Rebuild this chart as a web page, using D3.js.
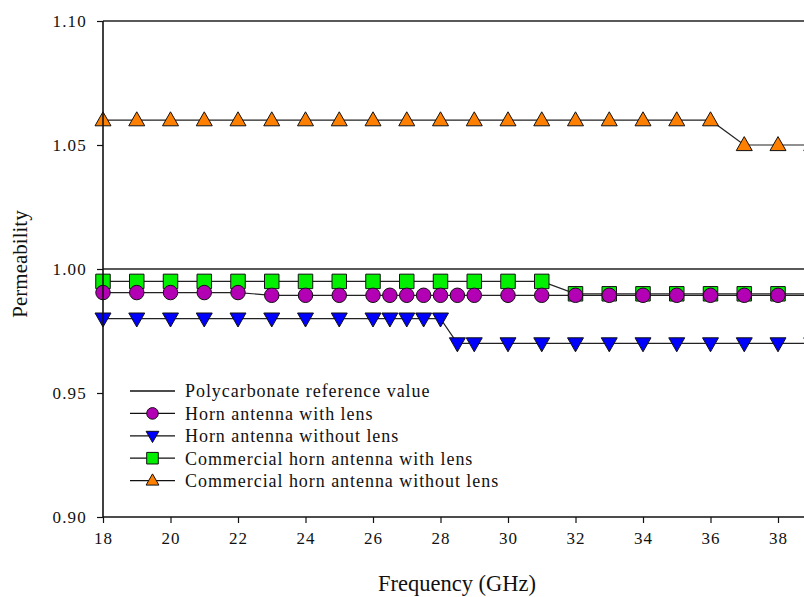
<!DOCTYPE html>
<html>
<head>
<meta charset="utf-8">
<script src="https://cdn.jsdelivr.net/npm/d3@7/dist/d3.min.js"></script>
<style>
  html, body { margin: 0; padding: 0; background: #fff; overflow: hidden; }
  svg { display: block; }
  text { font-family: "Liberation Serif", "Times New Roman", serif; fill: #111; }
</style>
</head>
<body>
<svg id="chart" width="804" height="597"></svg>
<script>
// ---- data ----
const xTicks = [18, 20, 22, 24, 26, 28, 30, 32, 34, 36, 38];
const yTicks = [0.90, 0.95, 1.00, 1.05, 1.10];
const referenceValue = 1.00;

const hornWithLensX = [18,19,20,21,22,23,24,25,26,26.5,27,27.5,28,28.5,29,30,31,32,33,34,35,36,37,38,39];
const hornWithLensY = [0.9905,0.9905,0.9905,0.9905,0.9905,0.9894,0.9894,0.9894,0.9894,0.9894,0.9894,0.9894,0.9894,0.9894,0.9894,0.9894,0.9894,0.9894,0.9894,0.9894,0.9894,0.9894,0.9894,0.9894,0.9894];

const hornWithoutLensX = [18,19,20,21,22,23,24,25,26,26.5,27,27.5,28,28.5,29,30,31,32,33,34,35,36,37,38,39];
const hornWithoutLensY = [0.98,0.98,0.98,0.98,0.98,0.98,0.98,0.98,0.98,0.98,0.98,0.98,0.98,0.97,0.97,0.97,0.97,0.97,0.97,0.97,0.97,0.97,0.97,0.97,0.97];

const commWithLensX = [18,19,20,21,22,23,24,25,26,27,28,29,30,31,32,33,34,35,36,37,38,39];
const commWithLensY = [0.995,0.995,0.995,0.995,0.995,0.995,0.995,0.995,0.995,0.995,0.995,0.995,0.995,0.995,0.990,0.990,0.990,0.990,0.990,0.990,0.990,0.990];

const commWithoutLensX = [18,19,20,21,22,23,24,25,26,27,28,29,30,31,32,33,34,35,36,37,38,39];
const commWithoutLensY = [1.06,1.06,1.06,1.06,1.06,1.06,1.06,1.06,1.06,1.06,1.06,1.06,1.06,1.06,1.06,1.06,1.06,1.06,1.06,1.05,1.05,1.05];

const legendLabels = [
  "Polycarbonate reference value",
  "Horn antenna with lens",
  "Horn antenna without lens",
  "Commercial horn antenna with lens",
  "Commercial horn antenna without lens"
];

// ---- layout ----
const svg = d3.select("#chart");
const x = d3.scaleLinear().domain([18, 39]).range([103, 811.75]);
const y = d3.scaleLinear().domain([0.90, 1.10]).range([517, 21]);

const zip = (xs, ys) => xs.map((v, i) => [v, ys[i]]);

const series = [
  { name: legendLabels[3], pts: zip(commWithLensX, commWithLensY), sym: d3.symbolSquare, size: 210, fill: "#00f000" },
  { name: legendLabels[1], pts: zip(hornWithLensX, hornWithLensY), sym: d3.symbolCircle, size: 165, fill: "#b400b4" },
  { name: legendLabels[2], pts: zip(hornWithoutLensX, hornWithoutLensY), sym: "down", size: 8, fill: "#0000ff" },
  { name: legendLabels[4], pts: zip(commWithoutLensX, commWithoutLensY), sym: "up", size: 8, fill: "#ff8000" }
];

function markerPath(s, scale) {
  const k = scale || 1;
  if (s.sym === "up") {
    const w = s.size * k, h = 14 * k;
    return `M0,${-h*0.6}L${w},${h*0.4}L${-w},${h*0.4}Z`;
  }
  if (s.sym === "down") {
    const w = s.size * k, h = 14 * k;
    return `M0,${h*0.6}L${w},${-h*0.4}L${-w},${-h*0.4}Z`;
  }
  return d3.symbol().type(s.sym).size(s.size * k * k)();
}

const plot = svg.append("g").attr("clip-path", "url(#clip)");
svg.append("defs").append("clipPath").attr("id", "clip")
  .append("rect").attr("x", 0).attr("y", 0).attr("width", 804).attr("height", 597);

// frame top line
svg.append("line").attr("x1", x(18)).attr("x2", 804).attr("y1", y(1.10)).attr("y2", y(1.10))
  .attr("stroke", "#222").attr("stroke-width", 1.6);

// reference line
svg.append("line").attr("x1", x(18)).attr("x2", 804).attr("y1", y(referenceValue)).attr("y2", y(referenceValue))
  .attr("stroke", "#222").attr("stroke-width", 1.6);

// axes
const xAxis = d3.axisBottom(x).tickValues(xTicks).tickSize(6).tickPadding(9).tickFormat(d3.format("d"));
const gx = svg.append("g").attr("transform", `translate(0,${y(0.90)})`).call(xAxis);
gx.select(".domain").attr("d", `M${x(18)},0H804`).attr("stroke", "#111").attr("stroke-width", 1.4);
gx.selectAll(".tick line").attr("stroke", "#111").attr("stroke-width", 1.2);
gx.selectAll(".tick text").attr("font-size", 17).attr("letter-spacing", 1).attr("fill", "#111")
  .style("font-family", "'Liberation Serif', serif");

const yAxis = d3.axisLeft(y).tickValues(yTicks).tickSize(6).tickPadding(10).tickFormat(d3.format(".2f"));
const gy = svg.append("g").attr("transform", `translate(${x(18)},0)`).call(yAxis);
gy.select(".domain").attr("d", `M0,${y(1.10)}V${y(0.90)}`).attr("stroke", "#111").attr("stroke-width", 1.6);
gy.selectAll(".tick line").attr("stroke", "#111").attr("stroke-width", 1.2);
gy.selectAll(".tick text").attr("font-size", 17).attr("letter-spacing", 1.2).attr("fill", "#111")
  .style("font-family", "'Liberation Serif', serif");

// series lines
const line = d3.line().x(d => x(d[0])).y(d => y(d[1]));
series.forEach(s => {
  plot.append("path").datum(s.pts).attr("d", line)
    .attr("fill", "none").attr("stroke", "#222").attr("stroke-width", 1.2);
});

// markers (squares first, then circles on top, then triangles)
series.forEach(s => {
  plot.append("g").selectAll("path").data(s.pts).join("path")
    .attr("transform", d => `translate(${x(d[0])},${y(d[1])})`)
    .attr("d", markerPath(s))
    .attr("fill", s.fill).attr("stroke", "#111").attr("stroke-width", 1);
});

// axis titles
svg.append("text").attr("x", 457).attr("y", 591).attr("text-anchor", "middle")
  .attr("font-size", 22.5).text("Frequency (GHz)");
svg.append("text").attr("transform", "translate(27,264) rotate(-90)").attr("text-anchor", "middle")
  .attr("font-size", 21).text("Permeability");

// legend
const legendOrder = [
  { name: legendLabels[0], s: null },
  { name: legendLabels[1], s: series[1] },
  { name: legendLabels[2], s: series[2] },
  { name: legendLabels[3], s: series[0] },
  { name: legendLabels[4], s: series[3] }
];
const lg = svg.append("g");
legendOrder.forEach((item, i) => {
  const cy = 391 + i * 22.4;
  lg.append("line").attr("x1", 130).attr("x2", 175).attr("y1", cy).attr("y2", cy)
    .attr("stroke", "#111").attr("stroke-width", 1.3);
  if (item.s) {
    lg.append("path").attr("transform", `translate(152.5,${cy})`)
      .attr("d", markerPath(item.s, 0.8))
      .attr("fill", item.s.fill).attr("stroke", "#111").attr("stroke-width", 1);
  }
  lg.append("text").attr("x", 185).attr("y", cy).attr("dy", "0.35em")
    .attr("font-size", 18).attr("letter-spacing", 0.95).text(item.name);
});
</script>
</body>
</html>
